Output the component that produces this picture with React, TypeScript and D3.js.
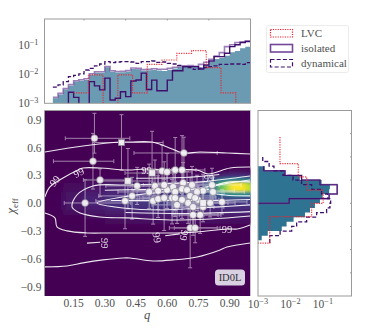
import React from "react";
import * as d3 from "d3";

const OFF = 0.0005; // bin empty, falls under the log axis

// top panel, q histograms
const qFilled = [.0015,.0020,.0030,.0040,.0056,.0060,.0064,.0096,.0114,.0114,.0175,.0123,.0115,.0118,.0125,.0152,.0150,.0134,.0138,.0140,.0135,.0130,.0140,.0160,.0180,.0190,.0195,.0180,.0175,.0210,.0275,.0340,.0370,.0440,.0580,.0640,.0800,.0900];
const qIsoEnvelope = [.0016,.0022,.0032,.0044,.0060,.0065,.0070,.0105,.0122,.0122,.0185,.0132,.0125,.0128,.0135,.0165,.0160,.0145,.0150,.0155,.0150,.0150,.0160,.0175,.0190,.0195,.0200,.0190,.0220,.0260,.0330,.0430,.0560,.0900,.1050,.1250,.1300,.1400];
const qIsolated = [OFF,OFF,OFF,.0024,.0016,OFF,OFF,.0056,.0040,.0029,.0074,.0013,.0015,.0025,.0017,.0059,.0064,.0110,.0030,.0063,.0027,.0027,.0063,.0133,.0133,.0184,.0184,.0184,.0152,.0210,.0288,.0407,.0407,.0530,.0900,.1050,.1250,.1350];
const qDynamical = [.0036,.0043,.0056,.0083,.0092,.0103,.0141,.0161,.0194,.0227,.0273,.0252,.0266,.0273,.0273,.0266,.0239,.0273,.0273,.0288,.0259,.0266,.0239,.0227,.0204,.0184,.0170,.0149,.0161,.0170,.0184,.0194,.0221,.0221,.0227,.0227,.0221,.0252];
const qLvc = [.0023,.0095,OFF,.0095,.0023,.0221,.0312,.0530,.0655,.0170,.0023,OFF];

// right panel, chi_eff histograms, listed from high chi to low
const chiFilled = [.0016,.0068,.0195,.091,.164,.156,.098,.081,.0568,.04,.028,.0125,.0076,.0054,.002,.0013];
const chiIsolated = [.0015,.0068,.022,.081,.275,.275,.155,.0091];
const chiDynamical = [.0014,.0022,.0031,.0059,.012,.022,.045,.091,.141,.173,.164,.13,.064,.0316,.0155,.0109,.0048,.0023,.0023];
const chiLvc = [.00475,.00475,.0174,.0316,.102,.0449,.0023,.0023];

const legendLabels = ["LVC", "isolated", "dynamical"];
const qTicks = [0.15, 0.3, 0.45, 0.6, 0.75, 0.9];
const chiTicks = [0.9, 0.6, 0.3, 0, -0.3, -0.6, -0.9];
const decades = [1e-3, 1e-2, 1e-1];

// density read by eye, viridis fraction
const heatQ = [.05,.15,.25,.35,.45,.55,.65,.75,.82,.87,.92,.96,1];
const heatChi = [.35,.3,.25,.2,.15,.1,.05,0,-.05,-.1,-.15,-.2];
const heatRows = [
  [0,0,0,0,0,0,0,0,.01,.01,.02,.02,.02],
  [0,0,.01,.01,.02,.02,.02,.03,.05,.1,.12,.12,.1],
  [0,.01,.02,.03,.04,.05,.06,.08,.2,.4,.45,.45,.4],
  [0,.02,.04,.07,.08,.09,.1,.12,.35,.75,1,1,.85],
  [0,.03,.06,.09,.11,.12,.13,.15,.38,.8,1,1,.9],
  [.01,.05,.08,.11,.13,.15,.16,.18,.25,.4,.5,.5,.45],
  [.01,.06,.1,.13,.15,.17,.18,.18,.18,.2,.22,.22,.22],
  [.01,.06,.1,.13,.15,.17,.18,.17,.15,.15,.15,.15,.15],
  [.01,.05,.08,.11,.13,.14,.14,.13,.12,.12,.12,.12,.12],
  [0,.03,.05,.07,.08,.09,.09,.09,.09,.09,.09,.09,.09],
  [0,.01,.03,.04,.05,.06,.06,.06,.06,.06,.06,.06,.06],
  [0,0,.01,.02,.03,.03,.03,.03,.03,.03,.03,.03,.03],
];

// contours as [q, chi]
const contour99Top = [[.012,.553],[.195,.617],[.373,.66],[.421,.66],[.527,.66],[.599,.607],[.676,.542],[.757,.553],[.887,.542],[.998,.531]];
const contour99Bottom = [[.012,-.686],[.118,-.676],[.195,-.643],[.291,-.611],[.387,-.59],[.421,-.59],[.531,-.622],[.628,-.611],[.743,-.579],[.854,-.503],[.887,-.471],[.998,-.428]];
const contour99InnerTop = [[.012,.068],[.036,.176],[.099,.273],[.171,.359],[.195,.38],[.277,.38],[.407,.359],[.498,.37],[.58,.359],[.743,.359],[.796,.316],[.902,.38],[.998,.391]];
const contour99InnerBottom = [[.012,-.105],[.06,-.158],[.07,-.255],[.118,-.298],[.214,-.32],[.325,-.32],[.46,-.32],[.58,-.32],[.647,-.32],[.743,-.309],[.887,-.277],[.936,-.277],[.998,-.234]];
const contour90 = [[.373,.197],[.243,.186],[.166,.089],[.142,-.04],[.181,-.105],[.277,-.148],[.407,-.158],[.613,-.18],[.806,-.169],[.998,-.137]];
const contour90Top = [[.373,.197],[.565,.208],[.757,.23],[.926,.273],[.998,.294]];
const contour50 = [[.998,.251],[.902,.219],[.757,.165],[.58,.122],[.387,.068],[.262,.003],[.387,-.051],[.58,-.072],[.757,-.051],[.998,-.018]];
const contour25 = [[.998,.079],[.878,.089],[.806,.122],[.83,.186],[.902,.23],[.998,.23]];
const contourStreaks = [
  [[.3,.14],[.55,.15],[.8,.15]],
  [[.33,.03],[.6,.03],[.85,.03],[.998,.04]],
  [[.4,-.1],[.7,-.11],[.998,-.09]],
  [[.45,.27],[.7,.28],[.85,.31]],
];
const smallContours = [
  [[.214,-.43],[.277,-.42]],
  [[.59,-.35],[.66,-.33]],
];

const contourLabels = [
  { q: .06, chi: .24, rot: -50 },
  { q: .175, chi: .33, rot: -28 },
  { q: .5, chi: .355, rot: 0 },
  { q: .8, chi: .27, rot: 0 },
  { q: .3, chi: -.43, rot: 90 },
  { q: .55, chi: -.37, rot: 80 },
  { q: .68, chi: -.345, rot: 100 },
  { q: .887, chi: -.28, rot: 0 },
];

// q, chi, q minus, q plus, chi minus, chi plus
const circleEvents = [
  [.25,.70,.14,.17,.16,.27],[.243,.453,.19,.1,.3,.3],[.277,.251,.08,.15,.18,.12],[.205,.003,.1,.22,.36,.25],
  [.680,.542,.24,.16,.3,.17],[.455,.187,.15,.13,.2,.2],[.513,.122,.15,.15,.18,.3],[.431,.079,.16,.15,.25,.2],
  [.397,.025,.14,.12,.3,.22],[.532,.025,.12,.1,.25,.2],[.556,.046,.16,.14,.2,.25],[.585,.057,.12,.1,.35,.2],
  [.599,.143,.14,.12,.2,.22],[.541,.186,.12,.16,.2,.28],[.585,.197,.1,.14,.15,.25],[.628,.176,.1,.12,.3,.2],
  [.623,.057,.14,.12,.28,.2],[.575,.348,.09,.11,.2,.28],[.638,.359,.06,.1,.22,.35],[.671,.359,.06,.11,.25,.37],
  [.676,.219,.12,.13,.2,.22],[.719,.197,.1,.13,.22,.2],[.815,.197,.13,.14,.2,.18],[.772,.133,.14,.15,.17,.18],
  [.820,.122,.12,.15,.16,.16],[.863,.014,.12,.12,.13,.13],[.806,.003,.1,.12,.15,.15],[.638,.122,.1,.12,.2,.2],
  [.671,.154,.1,.12,.2,.2],[.695,.143,.1,.1,.18,.2],[.743,.122,.12,.13,.2,.18],[.647,-.018,.12,.12,.2,.18],
  [.710,.079,.12,.12,.2,.2],[.700,.003,.1,.12,.22,.17],[.748,.036,.1,.1,.18,.15],[.772,-.040,.12,.1,.16,.16],
  [.724,-.040,.1,.1,.2,.15],[.724,-.126,.1,.12,.22,.16],[.758,-.126,.1,.1,.2,.16],[.710,-.266,.1,.13,.43,.2],
  [.734,-.266,.1,.12,.16,.14],[.638,.057,.11,.1,.2,.18],[.671,.036,.1,.1,.2,.18],[.734,.057,.1,.1,.17,.16],
  [.599,.337,.08,.12,.15,.2],[.556,.133,.12,.14,.2,.22],
];
const squareEvents = [
  [.38,.655,.14,.2,.3,.3],[.527,.326,.13,.1,.22,.45],[.411,.24,.14,.12,.3,.35],[.772,.003,.1,.12,.14,.14],
];

const W = 374, H = 336;
const main = { l: 44.5, r: 250.5, t: 110.5, b: 296 };
const top = { l: 44.5, r: 250.5, t: 19, b: 103.3 };
const side = { l: 258, r: 351.5, t: 110.5, b: 296 };

const x = d3.scaleLinear().domain([0.01, 1]).range([main.l, main.r]);
const y = d3.scaleLinear().domain([-1, 1]).range([main.b, main.t]);
const topY = d3.scaleLog().domain([1e-3, 0.81]).range([top.b, top.t]);
const sideX = d3.scaleLog().domain([1e-3, 0.76]).range([side.l, side.r]);

const TEXT = "#505050";
const SPINE = "#9a9a9a";
const RED = "#f0202e";
const PURPLE = "#3f0f6e";
const LAVENDER = "#74489a";
const serif = "'Liberation Serif', serif";

const qEdges = (start: number, width: number, n: number) => d3.range(n + 1).map(i => start + width * i);

// doubled vertices so a plain line gives the histogram steps
function steps(edges: number[], vals: number[]) {
  const pts: [number, number][] = [];
  vals.forEach((v, i) => {
    pts.push([edges[i], v]);
    pts.push([edges[i + 1], v]);
  });
  return pts;
}

const topLine = d3.line<[number, number]>().x(d => x(d[0])).y(d => topY(d[1]));
const sideLine = d3.line<[number, number]>().x(d => sideX(d[1])).y(d => y(d[0]));
const contourLine = d3.line<number[]>().x(d => x(d[0])).y(d => y(d[1])).curve(d3.curveCatmullRom);

function Pow({ v, px, py, anchor, size }: any) {
  return (
    <text x={px} y={py} textAnchor={anchor} fontFamily={serif} fontSize={size} fill={TEXT}>
      10<tspan dy={-4} fontSize={size * 0.72}>{"\u2212" + Math.round(-Math.log10(v))}</tspan>
    </text>
  );
}

export default function App() {
  const q38 = qEdges(0.05, 0.025, 38);
  const q12 = qEdges(0.15, 0.85 / 12, 12);
  const chiFill = qEdges(0.4, -0.05, 16);
  const chiIso = qEdges(0.4, -0.05, 8);
  const chiDyn = qEdges(0.5, -0.05, 19);
  const chiRed = qEdges(0.714, -0.143, 8);

  const fillTop = steps(q38, qFilled);
  const fillTopPath = d3.area<[number, number]>().x(d => x(d[0])).y0(top.b).y1(d => topY(d[1]))(fillTop);
  const fillSide = steps(chiFill, chiFilled);
  const fillSidePath = d3.area<[number, number]>().y(d => y(d[0])).x0(side.l).x1(d => sideX(d[1]))(fillSide);

  const qBand = (i: number) => [
    i === 0 ? -0.1 : (heatQ[i - 1] + heatQ[i]) / 2,
    i === heatQ.length - 1 ? 1.1 : (heatQ[i] + heatQ[i + 1]) / 2,
  ];

  return (
    <svg width={W} height={H} viewBox={`0 0 ${W} ${H}`} style={{ position: "absolute", left: 0, top: 0, display: "block", background: "#fff" }}>
      <defs>
        <clipPath id="mainClip"><rect x={main.l} y={main.t} width={main.r - main.l} height={main.b - main.t} /></clipPath>
        <clipPath id="topClip"><rect x={top.l} y={top.t} width={top.r - top.l} height={top.b - top.t} /></clipPath>
        <clipPath id="sideClip"><rect x={side.l} y={side.t} width={side.r - side.l} height={side.b - side.t} /></clipPath>
        <filter id="soft" x="-20%" y="-20%" width="140%" height="140%"><feGaussianBlur stdDeviation="3.5 1.6" /></filter>
      </defs>

      {/* top histogram */}
      <g clipPath="url(#topClip)" fill="none">
        <path d={fillTopPath!} fill="#6b9bb2" />
        <path d={topLine(steps(q38, qIsoEnvelope))!} stroke={LAVENDER} strokeWidth={1.6} opacity={0.7} />
        <path d={topLine(steps(q38, qIsolated))!} stroke={PURPLE} strokeWidth={1.4} />
        <path d={topLine(steps(q38, qDynamical))!} stroke={PURPLE} strokeWidth={1.3} strokeDasharray="4 2.2" />
        <path d={topLine(steps(q12, qLvc))!} stroke={RED} strokeWidth={1.2} strokeDasharray="1.2 1.2" opacity={0.9} />
      </g>
      <rect x={top.l} y={top.t} width={top.r - top.l} height={top.b - top.t} fill="none" stroke={SPINE} strokeWidth={1} />
      {[.2, .4, .6, .8].map(t => (
        <line key={t} x1={x(t)} x2={x(t)} y1={top.t} y2={top.t + 1.5} stroke={SPINE} />
      ))}
      {decades.map(d => (
        <Pow key={d} v={d} px={top.l - 6} py={topY(d) + 4} anchor="end" size={11.5} />
      ))}

      {/* main panel */}
      <g clipPath="url(#mainClip)">
        <rect x={main.l} y={main.t} width={main.r - main.l} height={main.b - main.t} fill={d3.interpolateViridis(0)} />
        <g filter="url(#soft)">
          {heatRows.map((row, r) =>
            row.map((v, c) => {
              const [q0, q1] = qBand(c);
              return (
                <rect key={r + "-" + c} x={x(q0)} width={x(q1) - x(q0) + 0.5} y={y(heatChi[r] + 0.025)} height={y(heatChi[r] - 0.025) - y(heatChi[r] + 0.025) + 0.5} fill={d3.interpolateViridis(v)} />
              );
            })
          )}
        </g>
        <g fill="none" stroke="#fff" strokeWidth={1.1} opacity={0.9}>
          {[contour99Top, contour99Bottom, contour99InnerTop, contour99InnerBottom, contour90, contour90Top, contour50, contour25, ...contourStreaks, ...smallContours].map((c, i) => (
            <path key={i} d={contourLine(c)!} />
          ))}
        </g>
        {contourLabels.map((l, i) => (
          <text key={i} transform={`translate(${x(l.q)},${y(l.chi)}) rotate(${l.rot})`} textAnchor="middle" dy={3.5} fontFamily={serif} fontSize={10.5} fill="#fff" opacity={0.85}>99</text>
        ))}
        <g stroke="#fff" strokeWidth={1} opacity={0.5}>
          {[...circleEvents, ...squareEvents].map((e, i) => (
            <g key={i}>
              <line x1={x(e[0] - e[2])} x2={x(e[0] + e[3])} y1={y(e[1])} y2={y(e[1])} />
              <line x1={x(e[0])} x2={x(e[0])} y1={y(e[1] - e[4])} y2={y(e[1] + e[5])} />
              <line x1={x(e[0] - e[2])} x2={x(e[0] - e[2])} y1={y(e[1]) - 2} y2={y(e[1]) + 2} />
              <line x1={x(e[0] + e[3])} x2={x(e[0] + e[3])} y1={y(e[1]) - 2} y2={y(e[1]) + 2} />
              <line x1={x(e[0]) - 2} x2={x(e[0]) + 2} y1={y(e[1] - e[4])} y2={y(e[1] - e[4])} />
              <line x1={x(e[0]) - 2} x2={x(e[0]) + 2} y1={y(e[1] + e[5])} y2={y(e[1] + e[5])} />
            </g>
          ))}
        </g>
        {circleEvents.map((e, i) => (
          <circle key={i} cx={x(e[0])} cy={y(e[1])} r={3.5} fill="#f6f5f7" fillOpacity={0.92} stroke="#77727e" strokeWidth={0.6} />
        ))}
        {squareEvents.map((e, i) => (
          <rect key={i} x={x(e[0]) - 3.2} y={y(e[1]) - 3.2} width={6.4} height={6.4} fill="#f6f5f7" fillOpacity={0.92} stroke="#77727e" strokeWidth={0.6} />
        ))}
      </g>
      <path d={`M${main.l},${main.b}V${main.t}H${main.r}`} fill="none" stroke={SPINE} strokeWidth={1} />
      <rect x={215} y={269.5} width={30} height={16} rx={3.5} fill="#d9d0e2" />
      <text x={230} y={281} textAnchor="middle" fontFamily={serif} fontSize={10.5} fill="#333">ID0L</text>
      {chiTicks.map(t => (
        <text key={t} x={main.l - 3} y={y(t) + 4} textAnchor="end" fontFamily={serif} fontSize={11.5} fill={TEXT}>
          {(t < 0 ? "\u2212" : "") + Math.abs(t).toFixed(1)}
        </text>
      ))}
      {qTicks.map(t => (
        <text key={t} x={x(t)} y={307} textAnchor="middle" fontFamily={serif} fontSize={11.5} fill={TEXT}>{t.toFixed(2)}</text>
      ))}
      <text x={147} y={319} textAnchor="middle" fontFamily={serif} fontStyle="italic" fontSize={12.5} fill={TEXT}>q</text>
      <text transform={`translate(15,206) rotate(-90)`} textAnchor="middle" fontFamily={serif} fontSize={13} fill={TEXT}>
        <tspan fontStyle="italic">{"\u03C7"}</tspan><tspan dy={2.5} fontSize={9}>eff</tspan>
      </text>

      {/* right histogram */}
      <g clipPath="url(#sideClip)" fill="none">
        <path d={fillSidePath!} fill="#2e7391" />
        <path d={sideLine(steps(chiIso, chiIsolated).concat([[chiIso[8], OFF]]))!} stroke={LAVENDER} strokeWidth={1.8} opacity={0.6} />
        <path d={sideLine(steps(chiIso, chiIsolated).concat([[chiIso[8], OFF]]))!} stroke={PURPLE} strokeWidth={1.1} />
        <path d={sideLine(steps(chiDyn, chiDynamical))!} stroke={PURPLE} strokeWidth={1.3} strokeDasharray="4 2.2" />
        <path d={sideLine(steps(chiRed, chiLvc).concat([[chiRed[8], OFF]]))!} stroke={RED} strokeWidth={1.2} strokeDasharray="1.2 1.2" opacity={0.9} />
      </g>
      <rect x={side.l} y={side.t} width={side.r - side.l} height={side.b - side.t} fill="none" stroke={SPINE} strokeWidth={1} />
      {[-.75, -.5, -.25, 0, .25, .5, .75].map(t => (
        <line key={t} x1={side.r - 1.5} x2={side.r} y1={y(t)} y2={y(t)} stroke={SPINE} />
      ))}
      {decades.map(d => (
        <Pow key={d} v={d} px={sideX(d)} py={308} anchor="middle" size={11.5} />
      ))}

      {/* legend */}
      <rect x={266.5} y={25.5} width={82} height={47} rx={2} fill="#fff" stroke="#e6e6e6" strokeWidth={0.8} />
      {legendLabels.map((name, i) => (
        <g key={name} transform={`translate(0,${29.5 + i * 15})`}>
          <rect x={270.5} y={0} width={22} height={7.5} fill="none"
            stroke={i === 0 ? RED : i === 1 ? LAVENDER : PURPLE}
            strokeWidth={i === 1 ? 1.6 : 1.2}
            strokeDasharray={i === 0 ? "1.2 1.2" : i === 2 ? "4 2.2" : undefined} />
          <text x={301} y={7.5} fontFamily={serif} fontSize={11} fill={TEXT}>{name}</text>
        </g>
      ))}
    </svg>
  );
}
